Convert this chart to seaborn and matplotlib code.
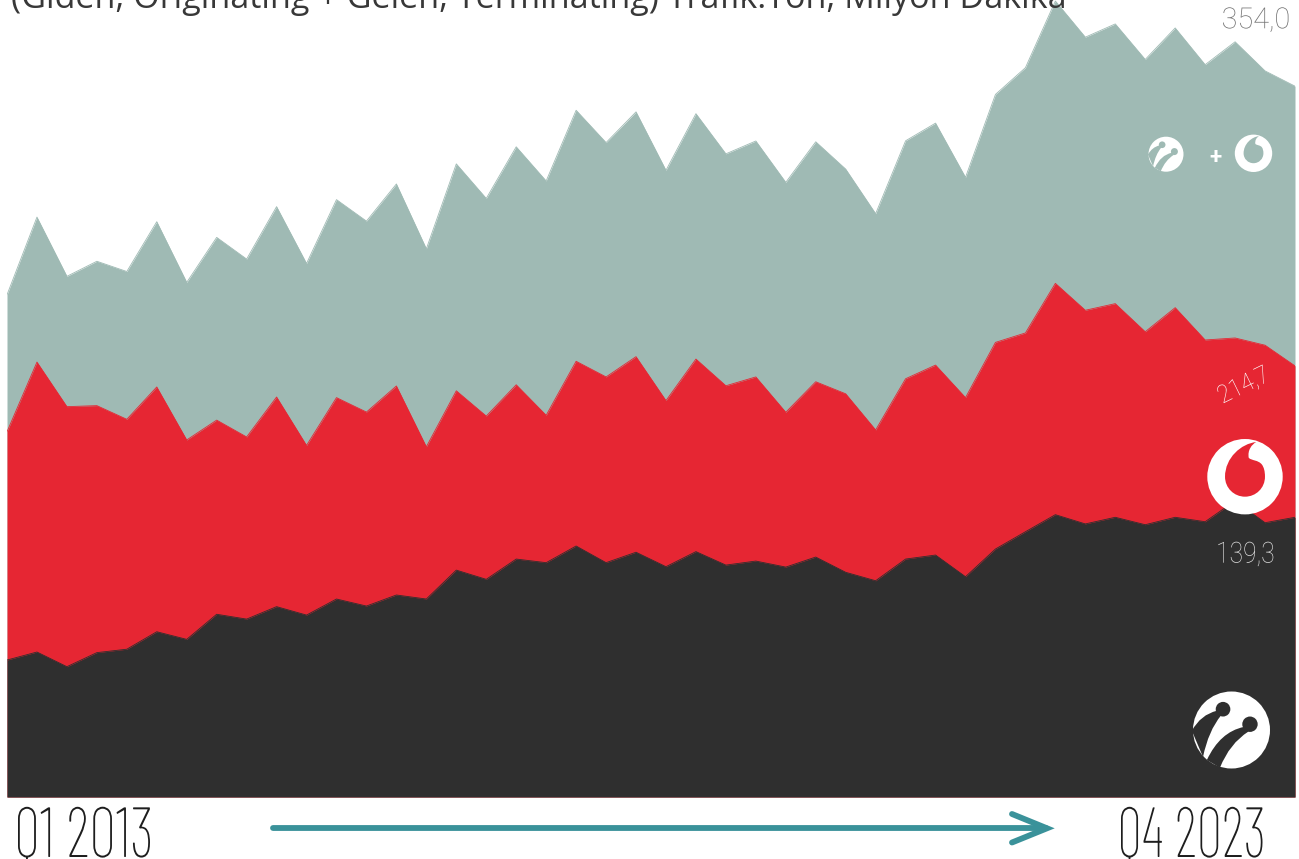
import numpy as np
import pandas as pd
import matplotlib
matplotlib.use("Agg")
import matplotlib.pyplot as plt
import seaborn as sns
from matplotlib.patches import Circle, PathPatch
from matplotlib.path import Path
from matplotlib.patheffects import AbstractPathEffect
from matplotlib.transforms import Affine2D
from matplotlib.textpath import TextPath
from matplotlib.font_manager import FontProperties

# ---------------- data ----------------
quarters = [f"Q{q} {y}" for y in range(2013, 2024) for q in range(1, 5)]
turkcell = [68.2, 72.2, 64.9, 71.9, 73.6, 82.3, 78.5, 91.0, 88.6, 94.8, 90.6,
            98.6, 95.1, 100.6, 98.6, 113.0, 108.4, 118.5, 116.7, 125.0, 116.7,
            121.9, 114.7, 122.2, 115.5, 117.5, 114.5, 119.5, 111.9, 107.7, 118.5,
            120.5, 109.7, 123.5, 132.1, 140.6, 136.0, 139.3, 135.6, 139.3, 137.1,
            147.5, 136.6, 139.3]
vodafone = [181.9, 216.6, 194.4, 194.9, 188.1, 204.2, 177.8, 187.7, 179.3, 199.2,
            175.1, 198.9, 191.7, 204.7, 174.4, 202.3, 189.7, 205.3, 190.1, 217.0,
            209.2, 219.3, 197.4, 218.1, 204.8, 209.2, 191.6, 206.8, 200.8, 182.8,
            208.3, 215.1, 198.9, 226.4, 231.1, 255.8, 242.4, 245.7, 231.7, 243.7,
            227.6, 228.6, 225.0, 214.7]
label_total = "354,0"
label_vodafone = "214,7"
label_turkcell = "139,3"
start_label = "Q1 2013"
end_label = "Q4 2023"
title = "(Giden, Originating + Gelen, Terminating) Trafik:Ton, Milyon Dakika"

df = pd.DataFrame({"quarter": quarters, "turkcell": turkcell, "vodafone": vodafone})
df["total"] = df["turkcell"] + df["vodafone"]
df["idx"] = np.arange(len(df))

GRAY = "#9fbab4"
RED = "#e62633"
DARK = "#2f2f2f"
TEAL = "#3a929a"

sns.set_theme(style="white")
plt.rcParams["font.family"] = ["Roboto", "DejaVu Sans"]

W, H = 1299, 859
fig = plt.figure(figsize=(W / 100, H / 100), dpi=100)
fig.patch.set_facecolor("white")

PX = 2.008  # pixels per million minutes
ax = fig.add_axes([7 / W, (H - 797) / H, 1288 / W, 797 / H])
for z, (col, color) in enumerate([("total", GRAY), ("vodafone", RED), ("turkcell", DARK)]):
    ax.fill_between(df["idx"], 0, df[col], color=color, linewidth=0, zorder=2 * z + 1)
    sns.lineplot(data=df, x="idx", y=col, ax=ax, color=color, linewidth=0.6,
                 zorder=2 * z + 2)
ax.set_xlim(0, len(df) - 1)
ax.set_ylim(0, 797 / PX)
ax.axis("off")

# overlay in pixel coordinates (y down)
oax = fig.add_axes([0, 0, 1, 1])
oax.set_xlim(0, W)
oax.set_ylim(H, 0)
oax.axis("off")
oax.patch.set_visible(False)
oax.set_zorder(5)


class Condense(AbstractPathEffect):
    def __init__(self, sx, angle=0.0):
        super().__init__()
        self.sx = sx
        self.angle = angle

    def draw_path(self, renderer, gc, tpath, affine, rgbFace=None):
        bb = tpath.get_extents(affine)
        cx, cy = 0.5 * (bb.x0 + bb.x1), 0.5 * (bb.y0 + bb.y1)
        t = (affine + Affine2D().translate(-cx, -cy).rotate_deg(-self.angle)
             .scale(self.sx, 1).rotate_deg(self.angle).translate(cx, cy))
        renderer.draw_path(gc, tpath, t, rgbFace)


def fit_text(s, x0, x1, base, cap_h, family, weight, color, ref=None):
    fp = FontProperties(family=family, weight=weight)
    e_full = TextPath((0, 0), s, size=10, prop=fp).get_extents()
    e_ref = TextPath((0, 0), ref or s, size=10, prop=fp).get_extents()
    f = cap_h / (e_ref.y1 * 100 / 72 / 10)
    k = f * 100 / 72 / 10
    sx = (x1 - x0) / (e_full.width * k)
    anchor = (x0 + x1) / 2 - (e_full.x0 + e_full.width / 2) * k
    fp2 = fp.copy()
    fp2.set_size(f)
    return oax.text(anchor, base, s, fontproperties=fp2, color=color, ha="left",
                    va="baseline", path_effects=[Condense(sx)], zorder=10)


def fit_rot(s, cx, cy, length, cap_h, angle, family, weight, color, ref=None):
    fp = FontProperties(family=family, weight=weight)
    e_full = TextPath((0, 0), s, size=10, prop=fp).get_extents()
    e_ref = TextPath((0, 0), ref or s, size=10, prop=fp).get_extents()
    f = cap_h / (e_ref.y1 * 100 / 72 / 10)
    k = f * 100 / 72 / 10
    sx = length / (e_full.width * k)
    fp2 = fp.copy()
    fp2.set_size(f)
    return oax.text(cx, cy, s, fontproperties=fp2, color=color, ha="center",
                    va="center", rotation=angle, rotation_mode="anchor",
                    path_effects=[Condense(sx, angle)], zorder=10)


# title (cut at the top edge, as in the source)
fp_t = FontProperties(family="Open Sans", weight="normal")
e_t = TextPath((0, 0), title, size=10, prop=fp_t).get_extents()
ft = (1067 - 12.5) / (e_t.width * 100 / 72 / 10)
kt = ft * 100 / 72 / 10
fp_t.set_size(ft)
oax.text(12.5 - e_t.x0 * kt, 8.0, title, fontproperties=fp_t, color="#383838",
         ha="left", va="baseline", zorder=10)

# value labels
fit_text(label_total, 1223, 1288.5, 28.3, 21, "Roboto", "light", "#707070", ref="354")
fit_text(label_turkcell, 1218.3, 1273.3, 562.7, 21, "Roboto", "light", "#dcdcdc", ref="139")
fit_rot(label_vodafone, 1244, 385.5, 52, 18, 26, "Roboto", "light", "white", ref="214")

# period labels
fit_text(start_label, 18, 150, 857, 50.3, "Barlow Condensed", 250, "#1e1e1e", ref="2013")
fit_text(end_label, 1121, 1262.5, 857, 50.3, "Barlow Condensed", 250, "#1e1e1e", ref="2023")

# arrow
oax.plot([273, 1046], [828.3, 828.3], color=TEAL, lw=4.2, solid_capstyle="round", zorder=8)
oax.plot([1012, 1047, 1012], [814, 828.3, 842.5], color=TEAL, lw=4.2,
         solid_capstyle="round", solid_joinstyle="miter", zorder=8)


def rel_path(cx, cy, r, verts, codes):
    return Path([(cx + r * x, cy + r * y) for x, y in verts], codes)


def vodafone_logo(cx, cy, r, disc, mark):
    oax.add_patch(Circle((cx, cy), r, facecolor=disc, edgecolor="none", zorder=7))
    v = [(0.30, -0.92),
         (-0.10, -0.88), (-0.53, -0.50), (-0.53, 0.0),
         (-0.53, 0.30), (-0.29, 0.53), (0.0, 0.53),
         (0.29, 0.53), (0.53, 0.30), (0.53, 0.0),
         (0.53, -0.15), (0.50, -0.25), (0.45, -0.32),
         (0.35, -0.45), (0.18, -0.42), (0.10, -0.50),
         (0.06, -0.70), (0.18, -0.86), (0.30, -0.92),
         (0, 0)]
    c = [Path.MOVETO] + [Path.CURVE4] * 18 + [Path.CLOSEPOLY]
    oax.add_patch(PathPatch(rel_path(cx, cy, r, v, c), facecolor=mark,
                            edgecolor="none", zorder=8))


def turkcell_logo(cx, cy, r, disc, mark):
    oax.add_patch(Circle((cx, cy), r, facecolor=disc, edgecolor="none", zorder=7))
    for hx, hy, hr in [(-0.22, -0.54, 0.19), (0.48, -0.15, 0.20)]:
        oax.add_patch(Circle((cx + r * hx, cy + r * hy), r * hr, facecolor=mark,
                             edgecolor="none", zorder=8))
    q = [Path.MOVETO, Path.CURVE3, Path.CURVE3, Path.LINETO, Path.CURVE3,
         Path.CURVE3, Path.CLOSEPOLY]
    # tail 1: from head 1 to the left edge
    t1 = [(-0.38, -0.50), (-0.80, -0.40), (-1.03, 0.02), (-0.74, 0.70),
          (-0.60, 0.02), (-0.27, -0.38), (0, 0)]
    # tail 2: from head 2 to the lower-left edge
    t2 = [(0.32, -0.08), (-0.30, 0.05), (-0.64, 0.78), (-0.30, 0.98),
          (-0.05, 0.35), (0.44, 0.04), (0, 0)]
    for t in (t1, t2):
        oax.add_patch(PathPatch(rel_path(cx, cy, r, t, q), facecolor=mark,
                                edgecolor="none", zorder=8))


turkcell_logo(1166, 154.2, 17.5, "white", GRAY)
vodafone_logo(1253.5, 153.3, 18.7, "white", GRAY)
fp_p = FontProperties(family="Roboto", weight="bold", size=16)
oax.text(1215.3, 164.5, "+", fontproperties=fp_p, color="white", ha="center",
         va="baseline", zorder=10)
vodafone_logo(1245, 476.7, 37.7, "white", RED)
turkcell_logo(1231.5, 730, 38.5, "white", DARK)

fig.savefig("out.png", dpi=100, facecolor="white")
